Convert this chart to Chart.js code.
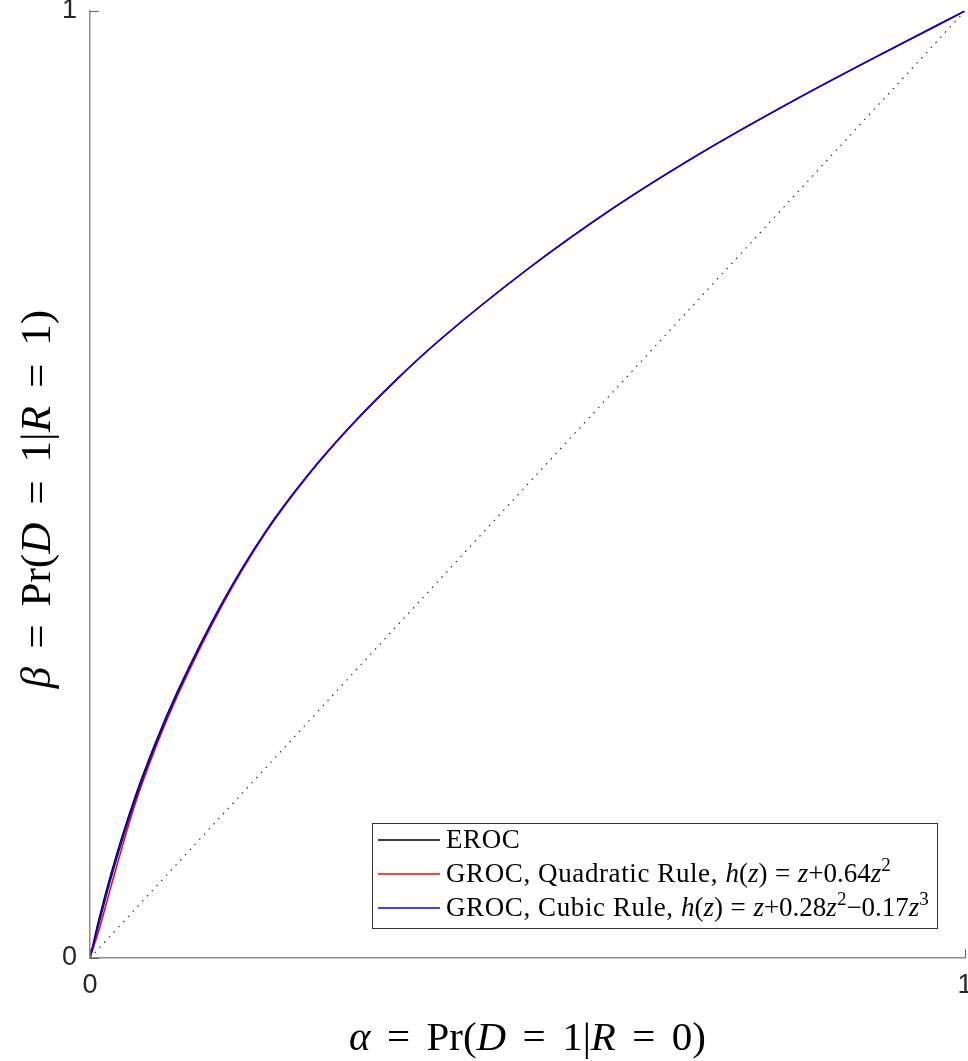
<!DOCTYPE html>
<html>
<head>
<meta charset="utf-8">
<script src="https://cdn.jsdelivr.net/npm/chart.js@4.4.1/dist/chart.umd.min.js"></script>
<style>
  html, body { margin:0; padding:0; background:#fff; }
  #wrap { width:968px; height:1061px; }
</style>
</head>
<body>
<div id="wrap"><canvas id="roc"></canvas></div>
<script>
/* ── data ── */
const ALPHA      = [0, 0.01,   0.025,  0.05,   0.075,  0.1,    0.15,   0.2,    0.25,   0.3,    0.35,   0.4,    0.5,    0.6,    0.7,    0.8,    0.9,    1];
const EROC       = [0, 0.0401, 0.0922, 0.1661, 0.2278, 0.2815, 0.3735, 0.4495, 0.5111, 0.5638, 0.6105, 0.6528, 0.7273, 0.7931, 0.8510, 0.9033, 0.9524, 1];
const GROC_QUAD  = [0, 0.0287, 0.0789, 0.1582, 0.2220, 0.2769, 0.3706, 0.4479, 0.5103, 0.5634, 0.6105, 0.6528, 0.7273, 0.7931, 0.8510, 0.9033, 0.9524, 1];
const GROC_CUBIC = [0, 0.0355, 0.0873, 0.1623, 0.2252, 0.2796, 0.3724, 0.4490, 0.5111, 0.5638, 0.6105, 0.6528, 0.7273, 0.7931, 0.8510, 0.9033, 0.9524, 1];
const DIAG_X = [0, 1];
const DIAG_Y = [0, 1];
const X_TICKS = [0, 1];
const Y_TICKS = [0, 1];

const SERIES_LABELS = ['EROC', 'GROC, Quadratic Rule, h(z) = z+0.64z²', 'GROC, Cubic Rule, h(z) = z+0.28z²−0.17z³'];

/* rich-text pieces for the LaTeX-style labels (i: italic, op: relation, sup: superscript, tx: text mode) */
const X_TITLE = [{t:'α',i:1},{t:'=',op:1},{t:'Pr('},{t:'D',i:1},{t:'=',op:1},{t:'1|'},{t:'R',i:1},{t:'=',op:1},{t:'0)'}];
const Y_TITLE = [{t:'β',i:1},{t:'=',op:1},{t:'Pr('},{t:'D',i:1},{t:'=',op:1},{t:'1|'},{t:'R',i:1},{t:'=',op:1},{t:'1)'}];
const LEGEND_TEXT = [
  [{t:'EROC',tx:1}],
  [{t:'GROC, Quadratic Rule, ',tx:1},{t:'h',i:1},{t:'('},{t:'z',i:1},{t:')'},{t:'=',op:1},{t:'z',i:1},{t:'+0.64'},{t:'z',i:1},{t:'2',sup:1}],
  [{t:'GROC, Cubic Rule, ',tx:1},{t:'h',i:1},{t:'('},{t:'z',i:1},{t:')'},{t:'=',op:1},{t:'z',i:1},{t:'+0.28'},{t:'z',i:1},{t:'2',sup:1},{t:'−0.17'},{t:'z',i:1},{t:'3',sup:1}]
];

const SERIF = '"Liberation Serif", "DejaVu Serif", serif';
const pts = (xs, ys) => xs.map((x, i) => ({ x, y: ys[i] }));

function setSeg(ctx, s, size, spacing) {
  ctx.font = `${s.i ? 'italic ' : ''}${s.sup ? Math.round(size * 0.7) : size}px ${SERIF}`;
  if ('letterSpacing' in ctx) ctx.letterSpacing = s.tx ? spacing + 'px' : '0px';
}

function richWidth(ctx, segs, size, gap, spacing) {
  let w = 0;
  segs.forEach(s => {
    setSeg(ctx, s, size, spacing);
    w += ctx.measureText(s.t).width + (s.op ? size * gap * 2 : 0);
  });
  return w;
}

function drawRich(ctx, segs, x, y, size, align, gap = 0.28, spacing = 0) {
  let cx = align === 'center' ? x - richWidth(ctx, segs, size, gap, spacing) / 2 : x;
  ctx.textAlign = 'left';
  ctx.textBaseline = 'alphabetic';
  ctx.fillStyle = '#000';
  segs.forEach(s => {
    setSeg(ctx, s, size, spacing);
    if (s.op) cx += size * gap;
    ctx.fillText(s.t, cx, s.sup ? y - size * 0.4 : y);
    cx += ctx.measureText(s.t).width;
    if (s.op) cx += size * gap;
  });
  if ('letterSpacing' in ctx) ctx.letterSpacing = '0px';
}

/* ── titles, inward ticks, legend box ── */
const decorPlugin = {
  id: 'decor',
  afterDraw(chart) {
    const { ctx, chartArea: a } = chart;
    ctx.save();

    // inward tick marks (MATLAB style)
    ctx.strokeStyle = '#666';
    ctx.lineWidth = 1;
    X_TICKS.forEach(v => {
      const px = Math.round(chart.scales.x.getPixelForValue(v)) + 0.5;
      ctx.beginPath(); ctx.moveTo(px, a.bottom); ctx.lineTo(px, a.bottom - 9); ctx.stroke();
    });
    Y_TICKS.forEach(v => {
      const py = Math.round(chart.scales.y.getPixelForValue(v)) + 0.5;
      ctx.beginPath(); ctx.moveTo(a.left, py); ctx.lineTo(a.left + 9, py); ctx.stroke();
    });

    // axis titles
    drawRich(ctx, X_TITLE, (a.left + a.right) / 2, 1050, 41, 'center', 0.4);
    ctx.save();
    ctx.translate(50, 499);
    ctx.rotate(-Math.PI / 2);
    drawRich(ctx, Y_TITLE, 0, 0, 43, 'center', 0.42);
    ctx.restore();

    // legend
    const bx = a.right - 593, by = a.bottom - 135, bw = 565, bh = 105;
    ctx.fillStyle = '#fff';
    ctx.fillRect(bx, by, bw, bh);
    ctx.strokeStyle = '#333';
    ctx.lineWidth = 1;
    ctx.strokeRect(bx + 0.5, by + 0.5, bw, bh);
    const ds = chart.data.datasets;
    [0, 1, 2].forEach((k, row) => {
      const cy = by + 17 + row * 34;
      ctx.strokeStyle = ds[k].borderColor;
      ctx.lineWidth = 1.3;
      ctx.beginPath(); ctx.moveTo(bx + 6, cy); ctx.lineTo(bx + 68, cy); ctx.stroke();
      drawRich(ctx, LEGEND_TEXT[k], bx + 74, cy + 8, 27, 'left', 0.28, 0.6);
    });

    ctx.restore();
  }
};

Chart.defaults.font.family = '"Liberation Sans", Arial, sans-serif';

new Chart(document.getElementById('roc'), {
  type: 'scatter',
  data: {
    datasets: [
      { label: SERIES_LABELS[0], data: pts(ALPHA, EROC), borderColor: '#000000', order: 2 },
      { label: SERIES_LABELS[1], data: pts(ALPHA, GROC_QUAD), borderColor: '#ff0000', order: 1 },
      { label: SERIES_LABELS[2], data: pts(ALPHA, GROC_CUBIC), borderColor: '#0000ff', order: 0 },
      { label: 'chance', data: pts(DIAG_X, DIAG_Y), borderColor: '#222', borderDash: [1.5, 5.5], borderWidth: 1.1, order: 3 }
    ].map(d => ({ showLine: true, pointRadius: 0, borderWidth: 1.5, fill: false, cubicInterpolationMode: 'monotone', ...d }))
  },
  options: {
    responsive: true,
    maintainAspectRatio: false,
    animation: false,
    layout: { padding: { top: 11, right: 3, left: 0, bottom: 0 } },
    plugins: { legend: { display: false }, tooltip: { enabled: false } },
    scales: {
      x: {
        type: 'linear', min: 0, max: 1,
        afterBuildTicks: s => { s.ticks = X_TICKS.map(v => ({ value: v })); },
        afterFit: s => { s.height = 103; s.paddingLeft = 0; s.paddingRight = 0; },
        ticks: { callback: v => String(v), color: '#262626', font: { size: 27 }, padding: 11, maxRotation: 0, autoSkip: false },
        grid: { display: false, drawTicks: false },
        border: { display: true, color: '#8c8c8c', width: 1.5 }
      },
      y: {
        type: 'linear', min: 0, max: 1,
        afterBuildTicks: s => { s.ticks = Y_TICKS.map(v => ({ value: v })); },
        afterFit: s => { s.width = 90; s.paddingTop = 0; s.paddingBottom = 0; },
        ticks: { callback: v => String(v), color: '#262626', font: { size: 27 }, padding: 13, autoSkip: false },
        grid: { display: false, drawTicks: false },
        border: { display: true, color: '#8c8c8c', width: 1.5 }
      }
    }
  },
  plugins: [decorPlugin]
});
</script>
</body>
</html>
